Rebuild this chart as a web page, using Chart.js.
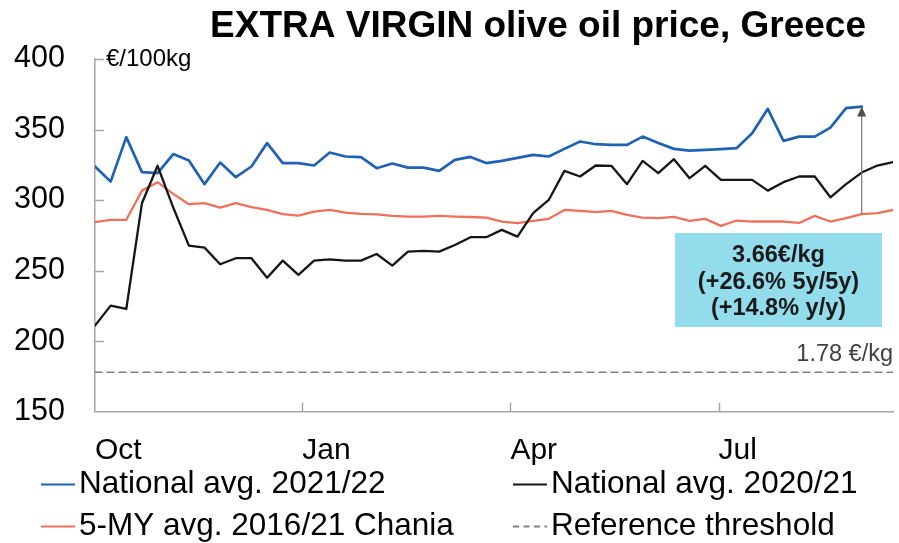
<!DOCTYPE html>
<html>
<head>
<meta charset="utf-8">
<script src="https://cdn.jsdelivr.net/npm/chart.js@4/dist/chart.umd.min.js"></script>
<style>
  html, body { margin: 0; padding: 0; background: #ffffff; }
  #wrap { width: 899px; height: 543px; position: relative; }
</style>
</head>
<body>
<div id="wrap"><canvas id="c" width="899" height="543"></canvas></div>
<script>
// ---------------- DATA ----------------
const titleText = "EXTRA VIRGIN olive oil price, Greece";
const unitLabel = "€/100kg";
const monthLabels = ["Oct", "Jan", "Apr", "Jul"];
const monthTickWeeks = [0, 13.25, 26.55, 39.85];   // week index of month ticks
const yTicks = [150, 200, 250, 300, 350, 400];

const seriesLabels = {
  nat2122: "National avg. 2021/22",
  nat2021: "National avg. 2020/21",
  chania: "5-MY avg. 2016/21 Chania",
  threshold: "Reference threshold"
};

// weekly prices, €/100kg (index = week from start of October)
const national2122 = [323.8, 313.1, 344.6, 319.8, 319.1, 332.6, 328, 311.3, 326.6, 316.2,
  323.8, 340.4, 326.2, 326.2, 324.5, 333.7, 330.9, 330.5, 322.6, 325.9,
  323, 323, 320.7, 328.5, 330.6, 326.2, 327.8, 329.9, 332, 330.9,
  336.3, 341.5, 339.6, 339.1, 339.1, 345, 340.4, 336.3, 335.1, 335.6,
  336.1, 336.8, 347.4, 364.7, 342, 345, 345, 351.4, 365.2, 366.3];

const national2021 = [211, 225.2, 222.8, 297.8, 324.3, 294.7, 267.7, 266.3, 254.5, 258.8,
  258.8, 245, 257.1, 247, 257.1, 258, 257.1, 257.1, 261.8, 253.5,
  263.5, 264, 263.5, 268.2, 273.7, 273.7, 278.9, 274.1, 290.7, 300.1,
  320.7, 316.7, 324.5, 324.3, 311.3, 327.8, 319.1, 329, 315.5, 324.3,
  314.3, 314.3, 314.3, 306.7, 312.7, 316.7, 316.7, 302, 311.3, 319.5,
  324.5, 326.9];

const chania5y = [284.3, 286, 286, 306.7, 312.7, 304.4, 297.1, 297.8, 294.7, 297.8,
  295, 293.1, 290, 289, 291.8, 293, 291.1, 290.2, 289.8, 288.8,
  288.3, 288.3, 288.8, 288.3, 288, 287.6, 284.8, 283.6, 285.2, 286.7,
  293, 292.3, 291.4, 292.3, 289.5, 287.6, 287.2, 288.1, 285.2, 286.7,
  281.7, 285.5, 284.8, 284.8, 284.8, 283.8, 288.8, 284.8, 287.2, 290,
  290.7, 293];

const thresholdValue = 178;          // 1.78 €/kg
const thresholdText = "1.78 €/kg";
const boxLines = ["3.66€/kg", "(+26.6% 5y/5y)", "(+14.8% y/y)"];
const arrowWeek = 49;                // week where the comparison arrow sits

// ---------------- BUILD ----------------
const FONT = '"Liberation Sans", Arial, Helvetica, sans-serif';
const toXY = arr => arr.map((v, i) => ({ x: i, y: v }));
const lastWeek = Math.max(national2122.length, national2021.length, chania5y.length) - 1;

const COLORS = {
  blue: '#1f62b5',
  black: '#151515',
  red: '#f0715b',
  dash: '#808080',
  axis: '#a6a6a6'
};

const datasets = [
  { key: 'nat2021', label: seriesLabels.nat2021, data: toXY(national2021), borderColor: COLORS.black, borderWidth: 2.3, order: 0 },
  { key: 'nat2122', label: seriesLabels.nat2122, data: toXY(national2122), borderColor: COLORS.blue, borderWidth: 2.7, order: 1 },
  { key: 'chania', label: seriesLabels.chania, data: toXY(chania5y), borderColor: COLORS.red, borderWidth: 2.3, order: 2 },
  { key: 'threshold', label: seriesLabels.threshold, data: [{ x: 0, y: thresholdValue }, { x: lastWeek, y: thresholdValue }],
    borderColor: COLORS.dash, borderWidth: 1.6, borderDash: [7, 5], order: 3 }
].map(d => Object.assign({
  pointRadius: 0, pointHoverRadius: 0, tension: 0, fill: false,
  borderJoinStyle: 'round', borderCapStyle: 'round'
}, d));

const decorPlugin = {
  id: 'decor',
  afterDraw(chart) {
    const ctx = chart.ctx;
    const xs = chart.scales.x, ys = chart.scales.y;
    const area = chart.chartArea;
    ctx.save();

    // inward tick marks
    ctx.strokeStyle = COLORS.axis;
    ctx.lineWidth = 1.5;
    ctx.beginPath();
    yTicks.forEach(v => {
      if (v === ys.min) return;
      const y = Math.round(ys.getPixelForValue(v)) + 0.5;
      ctx.moveTo(area.left, y); ctx.lineTo(area.left + 9, y);
    });
    monthTickWeeks.forEach(w => {
      if (w === xs.min) return;
      const x = Math.round(xs.getPixelForValue(w)) + 0.5;
      ctx.moveTo(x, area.bottom); ctx.lineTo(x, area.bottom - 9);
    });
    ctx.stroke();

    // unit label
    ctx.fillStyle = '#000';
    ctx.font = '24px ' + FONT;
    ctx.textAlign = 'left';
    ctx.textBaseline = 'middle';
    ctx.fillText(unitLabel, area.left + 11, ys.getPixelForValue(400));

    // threshold label
    ctx.fillStyle = '#404040';
    ctx.font = '23.5px ' + FONT;
    ctx.textAlign = 'right';
    ctx.textBaseline = 'alphabetic';
    ctx.fillText(thresholdText, area.right, ys.getPixelForValue(thresholdValue) - 11);

    // arrow between 5-year average and current value
    const ax = xs.getPixelForValue(arrowWeek);
    const yFrom = ys.getPixelForValue(chania5y[arrowWeek]);
    const yTo = ys.getPixelForValue(national2122[arrowWeek]);
    ctx.strokeStyle = '#7a7a7a';
    ctx.lineWidth = 1.2;
    ctx.beginPath();
    ctx.moveTo(ax, yFrom); ctx.lineTo(ax, yTo + 8);
    ctx.stroke();
    ctx.fillStyle = '#505050';
    ctx.beginPath();
    ctx.moveTo(ax, yTo); ctx.lineTo(ax - 4.5, yTo + 10); ctx.lineTo(ax + 4.5, yTo + 10);
    ctx.closePath(); ctx.fill();

    // annotation box
    const bx = 675, by = 233, bw = 207, bh = 94;
    ctx.fillStyle = '#93dceb';
    ctx.fillRect(bx, by, bw, bh);
    ctx.fillStyle = '#1a1a1a';
    ctx.font = 'bold 23.5px ' + FONT;
    ctx.textAlign = 'center';
    ctx.textBaseline = 'alphabetic';
    const baselines = [261.5, 288.5, 314.5];
    boxLines.forEach((t, i) => ctx.fillText(t, bx + bw / 2, baselines[i]));

    // title
    ctx.fillStyle = '#000';
    ctx.font = 'bold 37px ' + FONT;
    ctx.textAlign = 'center';
    ctx.fillText(titleText, 538, 37);

    // legend (2 x 2 grid)
    const byKey = {};
    chart.data.datasets.forEach(d => { byKey[d.key] = d; });
    const grid = [
      ['nat2122', 41, 484.5], ['nat2021', 513, 484.5],
      ['chania', 41, 526.5], ['threshold', 513, 526.5]
    ];
    ctx.font = '31.5px ' + FONT;
    ctx.textAlign = 'left';
    ctx.textBaseline = 'middle';
    grid.forEach(([k, x, y]) => {
      const d = byKey[k];
      ctx.strokeStyle = d.borderColor;
      ctx.lineWidth = 2;
      ctx.setLineDash(d.borderDash ? [6, 4.5] : []);
      ctx.beginPath();
      ctx.moveTo(x, y); ctx.lineTo(x + 34, y);
      ctx.stroke();
      ctx.setLineDash([]);
      ctx.fillStyle = '#000';
      ctx.fillText(d.label, x + 38, y);
    });

    ctx.restore();
  }
};

new Chart(document.getElementById('c'), {
  type: 'line',
  data: { datasets },
  options: {
    responsive: false,
    animation: false,
    devicePixelRatio: 1,
    layout: { padding: { top: 59, right: 6, bottom: 0, left: 0 } },
    plugins: { legend: { display: false }, title: { display: false }, tooltip: { enabled: false } },
    scales: {
      x: {
        type: 'linear',
        min: 0,
        max: lastWeek,
        afterBuildTicks: axis => { axis.ticks = monthTickWeeks.map(v => ({ value: v })); },
        afterFit: s => { s.height = 131.3; },
        ticks: {
          callback: (v, i) => monthLabels[i],
          align: 'start',
          padding: 21,
          autoSkip: false,
          maxRotation: 0,
          color: '#000',
          font: { size: 30, family: FONT }
        },
        grid: { drawOnChartArea: false, drawTicks: false },
        border: { color: COLORS.axis, width: 1.5 }
      },
      y: {
        type: 'linear',
        min: 150,
        max: 400,
        afterBuildTicks: axis => { axis.ticks = yTicks.map(v => ({ value: v })); },
        afterFit: s => { s.width = 95; },
        ticks: {
          padding: 30,
          color: '#000',
          font: { size: 30.5, family: FONT }
        },
        grid: { drawOnChartArea: false, drawTicks: false },
        border: { color: COLORS.axis, width: 1.5 }
      }
    }
  },
  plugins: [decorPlugin]
});
</script>
</body>
</html>
